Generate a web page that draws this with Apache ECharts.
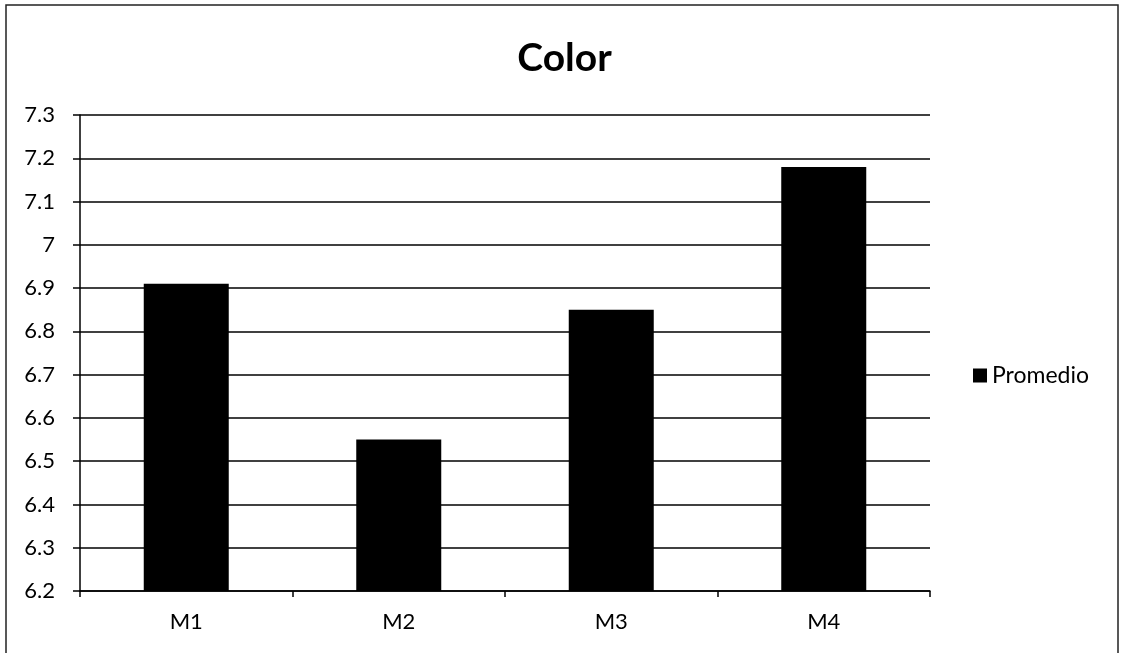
<!DOCTYPE html>
<html><head><meta charset="utf-8">
<script src="https://cdn.jsdelivr.net/npm/echarts@6/dist/echarts.min.js"></script>
<style>html,body{margin:0;padding:0;background:#fff}#c{width:1129px;height:653px}</style>
</head><body><div id="c"></div>
<script>
const categories = ['M1','M2','M3','M4'];
const promedio = [6.91, 6.55, 6.85, 7.18];
const seriesName = 'Promedio';
const chart = echarts.init(document.getElementById('c'));
const font = 'Lato, "Open Sans", sans-serif';
chart.setOption({
  animation:false,
  backgroundColor:'#fff',
  title:{text:'Color',left:'center',top:34,textStyle:{fontFamily:font,fontSize:39,fontWeight:'bold',color:'#000'}},
  graphic:[{type:'rect',shape:{x:6,y:5,width:1112,height:660},style:{fill:'none',stroke:'#222',lineWidth:1.5},silent:true}],
  legend:{data:[seriesName],orient:'vertical',left:968,top:359,icon:'rect',itemWidth:14,itemHeight:14,itemGap:4,textStyle:{fontFamily:font,fontSize:23,color:'#000',padding:[0,0,0,0]}},
  grid:{left:80,right:199,top:115,bottom:62},
  xAxis:{type:'category',data:categories,
    axisLine:{lineStyle:{color:'#000',width:1.5}},
    axisTick:{show:true,length:6,lineStyle:{color:'#000',width:1.5},alignWithLabel:false},
    axisLabel:{fontFamily:font,fontSize:22,color:'#000',margin:20}},
  yAxis:{type:'value',min:6.2,max:7.3,interval:0.1,
    axisLine:{show:true,lineStyle:{color:'#000',width:1.5}},
    axisTick:{show:true,length:7,lineStyle:{color:'#000',width:1.5}},
    splitLine:{lineStyle:{color:'#000',width:1.5}},
    axisLabel:{fontFamily:font,fontSize:22,color:'#000',margin:25,formatter:v=>String(Math.round(v*10)/10)}},
  series:[{name:seriesName,type:'bar',data:promedio,barWidth:'40%',itemStyle:{color:'#000'}}]
});
</script></body></html>
